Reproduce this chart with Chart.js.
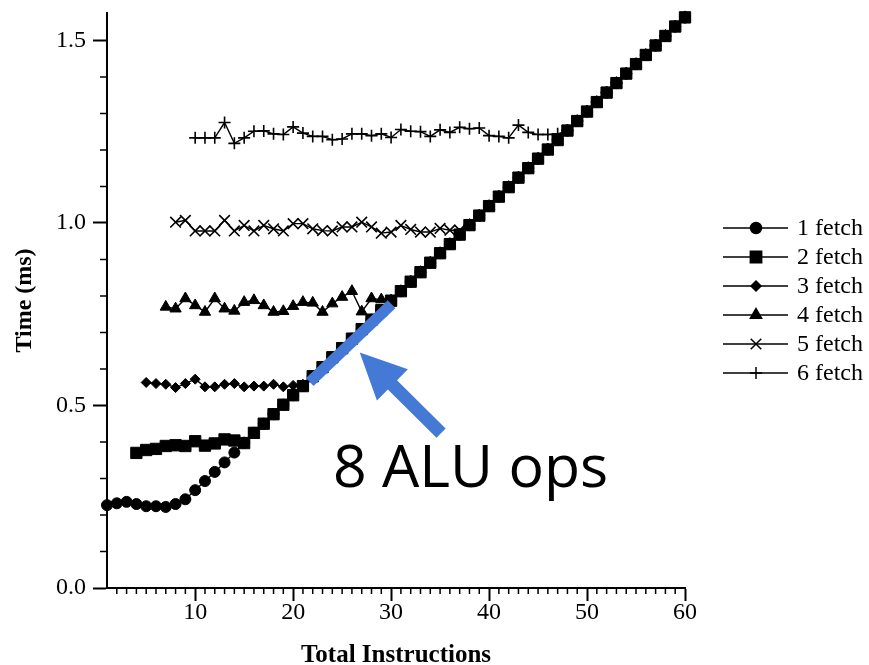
<!DOCTYPE html>
<html><head><meta charset="utf-8">
<script src="https://cdn.jsdelivr.net/npm/chart.js@4/dist/chart.umd.min.js"></script>
<style>html,body{margin:0;padding:0;background:#fff;}canvas{display:block;}</style>
</head><body>
<canvas id="c" width="869" height="665"></canvas>
<script>
// ---- data ----
const seriesNames = ['1 fetch', '2 fetch', '3 fetch', '4 fetch', '5 fetch', '6 fetch'];
const pointStyles = ['circle', 'rect', 'rectRot', 'triangle', 'crossRot', 'cross'];

// flat (fetch-bound) portion of each series: first x and the values
const fetch1Start = 1;
const fetch1Flat = [0.227, 0.232, 0.236, 0.230, 0.224, 0.224, 0.222, 0.230];
const fetch2Start = 4;
const fetch2Flat = [0.370, 0.378, 0.381, 0.389, 0.391, 0.389, 0.402, 0.390, 0.396, 0.407, 0.404, 0.397];
const fetch3Start = 5;
const fetch3Flat = [0.563, 0.560, 0.558, 0.549, 0.560, 0.572, 0.551, 0.551, 0.558, 0.560, 0.551, 0.553, 0.553, 0.558, 0.551, 0.555, 0.558];
const fetch4Start = 7;
const fetch4Flat = [0.770, 0.765, 0.793, 0.774, 0.756, 0.793, 0.765, 0.759, 0.783, 0.788, 0.774, 0.756, 0.758, 0.772, 0.783, 0.781, 0.756, 0.779, 0.797, 0.813, 0.757, 0.793, 0.790];
const fetch5Start = 8;
const fetch5Flat = [1.002, 1.007, 0.978, 0.978, 0.978, 1.007, 0.978, 0.993, 0.978, 0.993, 0.984, 0.978, 0.998, 0.998, 0.984, 0.979, 0.978, 0.989, 0.989, 1.002, 0.989, 0.972, 0.975, 0.993, 0.982, 0.975, 0.975, 0.985, 0.980, 0.980];
const fetch6Start = 10;
const fetch6Flat = [1.233, 1.233, 1.233, 1.275, 1.218, 1.233, 1.251, 1.252, 1.244, 1.242, 1.263, 1.246, 1.237, 1.237, 1.228, 1.230, 1.244, 1.244, 1.239, 1.244, 1.234, 1.256, 1.251, 1.250, 1.237, 1.255, 1.248, 1.262, 1.258, 1.260, 1.239, 1.237, 1.233, 1.268, 1.248, 1.242, 1.242, 1.244];

// shared ALU-bound diagonal, x = 9 .. 60
const diagonalStart = 9;
const diagonal = [0.243, 0.268, 0.293, 0.318, 0.344, 0.371, 0.398, 0.425, 0.450, 0.476, 0.502, 0.528,
  0.553, 0.580, 0.605, 0.632, 0.657, 0.683, 0.709, 0.735, 0.761, 0.787, 0.813, 0.839, 0.865, 0.891,
  0.917, 0.942, 0.968, 0.994, 1.020, 1.046, 1.072, 1.098, 1.124, 1.150, 1.176, 1.201, 1.227, 1.253,
  1.279, 1.305, 1.331, 1.357, 1.383, 1.409, 1.435, 1.460, 1.486, 1.512, 1.538, 1.563];

const xTickLabels = [10, 20, 30, 40, 50, 60];
const yTickLabels = [0.0, 0.5, 1.0, 1.5];

// annotation (data coordinates)
const highlightX = [21.7, 30.05];
const highlightY = [0.564, 0.777];
const arrowX = [35.1, 26.8];   // tail, tip
const arrowY = [0.424, 0.645];
const noteText = '8 ALU ops';
const noteX = 24.06;
const noteY = 0.276;

// ---- build datasets ----
function buildSeries(start, flat) {
  const pts = flat.map((v, i) => ({ x: start + i, y: v }));
  const tailStart = start + flat.length;
  diagonal.slice(tailStart - diagonalStart).forEach((v, i) => pts.push({ x: tailStart + i, y: v }));
  return pts;
}
const flats = [[fetch1Start, fetch1Flat], [fetch2Start, fetch2Flat], [fetch3Start, fetch3Flat],
               [fetch4Start, fetch4Flat], [fetch5Start, fetch5Flat], [fetch6Start, fetch6Flat]];
const radii = [5.5, 8, 5, 6.5, 7.5, 6];
const orders = [1, -1, 2, 3, 4, 5];

const datasets = flats.map(([s, f], i) => ({
  label: seriesNames[i],
  data: buildSeries(s, f),
  borderColor: '#000',
  backgroundColor: '#000',
  borderWidth: 1.4,
  pointStyle: pointStyles[i],
  pointRadius: radii[i],
  pointBorderWidth: (pointStyles[i] === 'crossRot' || pointStyles[i] === 'cross') ? 1.6 : 1,
  pointBackgroundColor: '#000',
  pointBorderColor: '#000',
  tension: 0,
  clip: false,
  order: orders[i]
}));

const SERIF = '"Liberation Serif", "Times New Roman", serif';
const BLUE = '#4479d5';

const overlay = {
  id: 'overlay',
  afterDraw(chart) {
    const { ctx, chartArea: ca, scales: { x, y } } = chart;
    ctx.save();
    // minor ticks
    ctx.strokeStyle = '#000';
    ctx.lineWidth = 1.5;
    ctx.beginPath();
    for (let v = 2; v < 60; v++) {
      if (v % 10 === 0) continue;
      const px = x.getPixelForValue(v);
      ctx.moveTo(px, ca.bottom);
      ctx.lineTo(px, ca.bottom + 6);
    }
    for (let k = 1; k < 15; k++) {
      if (k % 5 === 0) continue;
      const py = y.getPixelForValue(k / 10);
      ctx.moveTo(ca.left, py);
      ctx.lineTo(ca.left - 7, py);
    }
    ctx.stroke();

    // legend
    const lx0 = ca.right + 38, lx1 = ca.right + 103, mx = ca.right + 71;
    ctx.font = '24px ' + SERIF;
    ctx.textBaseline = 'middle';
    ctx.textAlign = 'left';
    ctx.fillStyle = '#000';
    seriesNames.forEach((name, i) => {
      const ly = 228 + 29 * i;
      ctx.beginPath();
      ctx.lineWidth = 1.5;
      ctx.strokeStyle = '#000';
      ctx.moveTo(lx0, ly); ctx.lineTo(lx1, ly);
      ctx.stroke();
      Chart.helpers.drawPoint(ctx, {
        pointStyle: pointStyles[i], radius: radii[i], rotation: 0,
        borderWidth: datasets[i].pointBorderWidth
      }, mx, ly);
      ctx.fillText(name, ca.right + 112, ly + 1);
    });

    // blue highlight bar
    ctx.strokeStyle = BLUE;
    ctx.lineWidth = 11;
    ctx.lineCap = 'butt';
    ctx.beginPath();
    ctx.moveTo(x.getPixelForValue(highlightX[0]), y.getPixelForValue(highlightY[0]));
    ctx.lineTo(x.getPixelForValue(highlightX[1]), y.getPixelForValue(highlightY[1]));
    ctx.stroke();

    // arrow
    const tx = x.getPixelForValue(arrowX[0]), ty = y.getPixelForValue(arrowY[0]);
    const hx = x.getPixelForValue(arrowX[1]), hy = y.getPixelForValue(arrowY[1]);
    const len = Math.hypot(hx - tx, hy - ty);
    const ux = (hx - tx) / len, uy = (hy - ty) / len;
    const nx = -uy, ny = ux;
    const headLen = 46, headHalf = 22, shaftHalf = 6.5;
    const bx = hx - ux * headLen, by = hy - uy * headLen;
    ctx.fillStyle = BLUE;
    ctx.beginPath();
    ctx.moveTo(tx + nx * shaftHalf, ty + ny * shaftHalf);
    ctx.lineTo(bx + nx * shaftHalf, by + ny * shaftHalf);
    ctx.lineTo(bx + nx * headHalf, by + ny * headHalf);
    ctx.lineTo(hx, hy);
    ctx.lineTo(bx - nx * headHalf, by - ny * headHalf);
    ctx.lineTo(bx - nx * shaftHalf, by - ny * shaftHalf);
    ctx.lineTo(tx - nx * shaftHalf, ty - ny * shaftHalf);
    ctx.closePath();
    ctx.fill();

    // note
    ctx.fillStyle = '#000';
    ctx.font = '59px "Open Sans", "Noto Sans", sans-serif';
    ctx.textBaseline = 'alphabetic';
    ctx.fillText(noteText, x.getPixelForValue(noteX), y.getPixelForValue(noteY));
    ctx.restore();
  }
};

new Chart(document.getElementById('c'), {
  type: 'line',
  data: { datasets },
  options: {
    responsive: false,
    devicePixelRatio: 1,
    animation: false,
    events: [],
    layout: { padding: { left: 0, right: 184, top: 13, bottom: 0 } },
    plugins: { legend: { display: false }, tooltip: { enabled: false } },
    scales: {
      x: {
        type: 'linear',
        min: 1, max: 60,
        afterBuildTicks: s => { s.ticks = xTickLabels.map(v => ({ value: v })); },
        afterFit: s => { s.height = 77; s.paddingLeft = 0; s.paddingRight = 0; },
        border: { display: true, color: '#000', width: 2 },
        grid: { display: true, drawOnChartArea: false, drawTicks: true, tickLength: 13, tickWidth: 2, tickColor: '#000' },
        ticks: { color: '#000', font: { family: SERIF, size: 24 }, padding: -3, maxRotation: 0, autoSkip: false },
        title: { display: true, text: 'Total Instructions', color: '#000',
                 font: { family: SERIF, size: 25, weight: 'bold', lineHeight: 1 }, padding: { top: 0, bottom: -3 } }
      },
      y: {
        type: 'linear',
        min: 0, max: 1.575,
        afterBuildTicks: s => { s.ticks = yTickLabels.map(v => ({ value: v })); },
        afterFit: s => { s.width = 107; s.paddingTop = 0; s.paddingBottom = 0; },
        border: { display: true, color: '#000', width: 2 },
        grid: { display: true, drawOnChartArea: false, drawTicks: true, tickLength: 14, tickWidth: 2, tickColor: '#000' },
        ticks: { color: '#000', font: { family: SERIF, size: 24 }, padding: 7,
                 callback: v => Number(v).toFixed(1) },
        title: { display: true, text: 'Time (ms)', color: '#000',
                 font: { family: SERIF, size: 24, weight: 'bold', lineHeight: 1 }, padding: { top: 13, bottom: 0 } }
      }
    }
  },
  plugins: [overlay]
});
</script>
</body></html>
